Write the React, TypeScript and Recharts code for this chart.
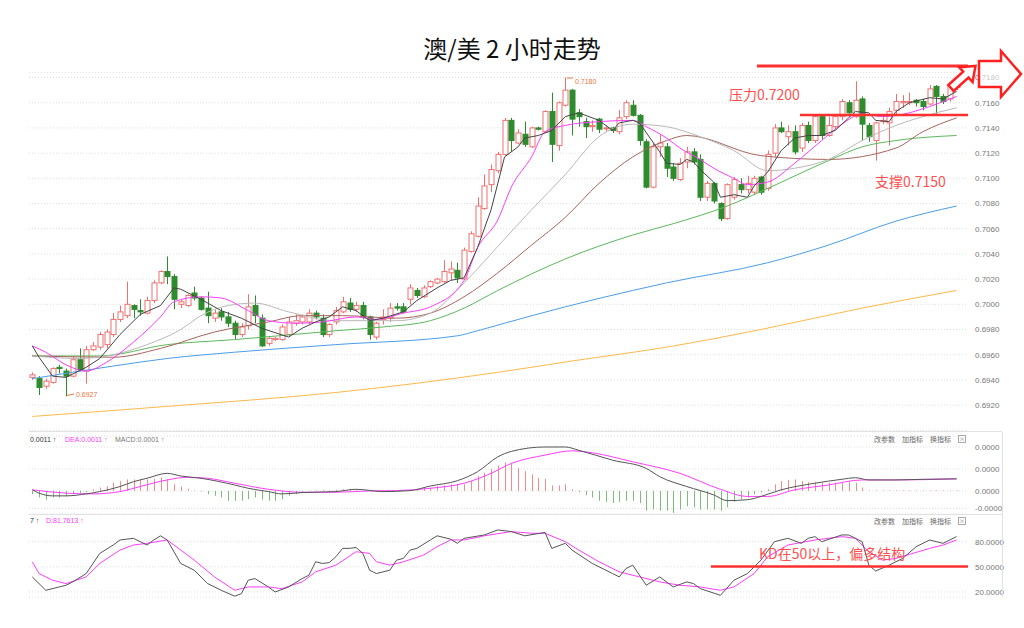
import React from "react";
import { ComposedChart, Bar, Line, XAxis, YAxis, CartesianGrid } from "recharts";

// 2-hour AUD/USD candles: [open, high, low, close]
const candles: number[][] = [
  [0.6942, 0.6946, 0.694, 0.6944], [0.6941, 0.6943, 0.6928, 0.6934], [0.6935, 0.6941, 0.6933, 0.6939],
  [0.6938, 0.695, 0.6937, 0.6949], [0.695, 0.6952, 0.6945, 0.6949], [0.6947, 0.6949, 0.6927, 0.6943],
  [0.6943, 0.6959, 0.6942, 0.6956], [0.6956, 0.6965, 0.6947, 0.6948], [0.6947, 0.6967, 0.6937, 0.6964],
  [0.6964, 0.697, 0.6963, 0.6967], [0.6966, 0.6978, 0.6964, 0.6976], [0.6968, 0.698, 0.6965, 0.6978],
  [0.6976, 0.6993, 0.6974, 0.6988], [0.6988, 0.6999, 0.6986, 0.6994], [0.6991, 0.7018, 0.6989, 0.7],
  [0.6999, 0.7, 0.6989, 0.6996], [0.6995, 0.7004, 0.6991, 0.6994], [0.6993, 0.7006, 0.6992, 0.7003],
  [0.7003, 0.7019, 0.7001, 0.7017], [0.7017, 0.7027, 0.7016, 0.7026], [0.7026, 0.7038, 0.7016, 0.7022],
  [0.7022, 0.7024, 0.6996, 0.7004], [0.7, 0.7004, 0.6997, 0.7002], [0.6999, 0.7008, 0.6998, 0.7007],
  [0.7009, 0.7014, 0.7003, 0.7005], [0.7005, 0.7006, 0.6995, 0.6996], [0.6997, 0.701, 0.6985, 0.6991],
  [0.6989, 0.6996, 0.6986, 0.6993], [0.6994, 0.6997, 0.6987, 0.699], [0.699, 0.6994, 0.6982, 0.6985],
  [0.6985, 0.6987, 0.6972, 0.6976], [0.6976, 0.6985, 0.6974, 0.6982], [0.6983, 0.7008, 0.698, 0.6998],
  [0.6999, 0.7007, 0.6985, 0.6991], [0.6989, 0.6992, 0.6966, 0.6967], [0.6969, 0.6974, 0.6967, 0.6973],
  [0.6972, 0.6974, 0.6971, 0.6973], [0.6972, 0.6984, 0.6971, 0.6982], [0.6976, 0.699, 0.6974, 0.6986],
  [0.6985, 0.6992, 0.6983, 0.6987], [0.6986, 0.6992, 0.6984, 0.699], [0.6986, 0.6996, 0.6984, 0.6993],
  [0.6993, 0.6995, 0.6988, 0.699], [0.6989, 0.6992, 0.6974, 0.6976], [0.6976, 0.6985, 0.6974, 0.6984],
  [0.6986, 0.6998, 0.6984, 0.6995], [0.6994, 0.7006, 0.6993, 0.7002], [0.7001, 0.7005, 0.6994, 0.6996],
  [0.6996, 0.7002, 0.6994, 0.6999], [0.6999, 0.7002, 0.6988, 0.699], [0.699, 0.6991, 0.6972, 0.6976],
  [0.6974, 0.6986, 0.6972, 0.6985], [0.6988, 0.6996, 0.6984, 0.699], [0.6989, 0.7001, 0.6986, 0.6997],
  [0.6998, 0.7001, 0.6995, 0.6997], [0.6998, 0.7001, 0.6993, 0.6994], [0.7004, 0.7016, 0.7, 0.7013],
  [0.7011, 0.7013, 0.7005, 0.7007], [0.7006, 0.7015, 0.7005, 0.7013], [0.7014, 0.7019, 0.7013, 0.7018],
  [0.7017, 0.7021, 0.7016, 0.702], [0.7018, 0.7035, 0.7017, 0.7026], [0.7025, 0.7034, 0.7019, 0.7028],
  [0.7027, 0.7033, 0.7017, 0.7021], [0.702, 0.7045, 0.7019, 0.7043], [0.7042, 0.7058, 0.7041, 0.7056],
  [0.7054, 0.7085, 0.7053, 0.7078], [0.7076, 0.7103, 0.7075, 0.7094], [0.7095, 0.7111, 0.7089, 0.7107],
  [0.7106, 0.7121, 0.7104, 0.7119], [0.7119, 0.7148, 0.7118, 0.7146], [0.7146, 0.7148, 0.7121, 0.713],
  [0.7128, 0.7139, 0.7127, 0.7136], [0.7135, 0.7145, 0.7125, 0.7127], [0.7125, 0.7141, 0.7124, 0.714],
  [0.714, 0.7141, 0.7138, 0.7139], [0.7137, 0.7154, 0.7136, 0.7153], [0.7153, 0.7168, 0.7113, 0.7127],
  [0.7126, 0.7161, 0.7122, 0.716], [0.7158, 0.718, 0.7157, 0.717], [0.717, 0.7171, 0.7134, 0.7147],
  [0.7152, 0.7155, 0.7141, 0.7149], [0.7145, 0.7148, 0.7132, 0.7141], [0.7141, 0.7146, 0.7137, 0.7142],
  [0.7147, 0.7148, 0.7136, 0.7139], [0.714, 0.7142, 0.7137, 0.714], [0.714, 0.7141, 0.7136, 0.7138],
  [0.7137, 0.7154, 0.7135, 0.7148], [0.7149, 0.7162, 0.7147, 0.716], [0.7158, 0.7162, 0.7149, 0.715],
  [0.715, 0.7151, 0.7126, 0.713], [0.7129, 0.7131, 0.7092, 0.7093], [0.7093, 0.7128, 0.7092, 0.7125],
  [0.7125, 0.7135, 0.7117, 0.7128], [0.7125, 0.7128, 0.7101, 0.7108], [0.7109, 0.7112, 0.7098, 0.71],
  [0.7099, 0.7116, 0.7098, 0.7112], [0.7113, 0.7125, 0.7108, 0.7121], [0.7121, 0.7124, 0.7111, 0.7113],
  [0.7115, 0.7119, 0.7082, 0.7085], [0.7085, 0.7098, 0.7082, 0.7096], [0.7096, 0.7097, 0.708, 0.7082],
  [0.708, 0.7081, 0.7066, 0.7068], [0.7068, 0.7096, 0.7067, 0.7095], [0.7085, 0.7101, 0.7083, 0.7099],
  [0.7095, 0.71, 0.7088, 0.7091], [0.7091, 0.7102, 0.7088, 0.7096], [0.7089, 0.7102, 0.7087, 0.71],
  [0.7101, 0.7102, 0.7087, 0.7089], [0.7092, 0.7122, 0.709, 0.7119], [0.712, 0.7143, 0.7117, 0.714],
  [0.714, 0.7145, 0.7136, 0.7137], [0.7133, 0.7142, 0.7126, 0.7137], [0.7137, 0.7142, 0.7119, 0.7121],
  [0.7124, 0.7144, 0.7121, 0.7142], [0.7142, 0.7145, 0.7128, 0.713], [0.713, 0.715, 0.7128, 0.7149],
  [0.7149, 0.715, 0.7131, 0.7134], [0.7134, 0.7149, 0.7133, 0.7142], [0.7141, 0.715, 0.7139, 0.7149],
  [0.7149, 0.7163, 0.7146, 0.7161], [0.716, 0.7162, 0.7149, 0.7152], [0.7149, 0.7177, 0.7148, 0.7162],
  [0.7163, 0.7165, 0.713, 0.7143], [0.7142, 0.7144, 0.7129, 0.7133], [0.713, 0.7145, 0.7114, 0.7144],
  [0.7145, 0.715, 0.7143, 0.7146], [0.7144, 0.7156, 0.7126, 0.7153], [0.7154, 0.7167, 0.7151, 0.7161],
  [0.716, 0.7166, 0.7156, 0.7161], [0.716, 0.7168, 0.7158, 0.7161], [0.7162, 0.7163, 0.7157, 0.716],
  [0.7161, 0.7163, 0.7154, 0.7157], [0.7159, 0.7174, 0.7158, 0.7171], [0.7173, 0.7174, 0.715, 0.7165],
  [0.7165, 0.7167, 0.7159, 0.7161], [0.7163, 0.7175, 0.7161, 0.7173], [0.7172, 0.7179, 0.717, 0.7176],
];

// moving averages: [candle index, value]
const ma5 = [[0, 0.6967], [1, 0.6958], [3, 0.6943], [5, 0.6942], [8, 0.695], [10, 0.6957], [13, 0.6976], [16, 0.6992], [19, 0.6999], [21, 0.7013], [22, 0.7012], [25, 0.7004], [28, 0.6995], [31, 0.6989], [34, 0.6981], [38, 0.6974], [40, 0.6981], [42, 0.6986], [44, 0.699], [46, 0.6998], [48, 0.6995], [50, 0.6987], [52, 0.6989], [55, 0.6994], [57, 0.7003], [60, 0.7013], [62, 0.7019], [64, 0.7021], [66, 0.7045], [68, 0.7075], [69, 0.7096], [70, 0.7117], [72, 0.7125], [73, 0.7132], [75, 0.7134], [76, 0.7136], [77, 0.7138], [79, 0.7149], [81, 0.7152], [84, 0.7146], [86, 0.7138], [87, 0.7144], [89, 0.7146], [90, 0.7144], [93, 0.7121], [94, 0.7112], [96, 0.7111], [97, 0.7115], [98, 0.7113], [99, 0.7107], [101, 0.7097], [102, 0.7085], [104, 0.7087], [106, 0.7085], [107, 0.7094], [109, 0.7105], [111, 0.7122], [113, 0.7132], [115, 0.7134], [117, 0.7134], [119, 0.7138], [121, 0.7148], [122, 0.7153], [124, 0.7152], [125, 0.7146], [127, 0.7145], [128, 0.7153], [130, 0.716], [133, 0.7164], [135, 0.7163], [137, 0.7169]];
const ma10 = [[0, 0.6967], [2, 0.6962], [5, 0.6952], [8, 0.6947], [11, 0.6954], [15, 0.697], [19, 0.699], [21, 0.7002], [25, 0.7006], [28, 0.7005], [32, 0.6995], [35, 0.6987], [39, 0.6985], [43, 0.6986], [48, 0.699], [51, 0.6988], [55, 0.6993], [59, 0.6998], [64, 0.7019], [66, 0.7045], [69, 0.7067], [71, 0.7093], [74, 0.7117], [76, 0.7137], [79, 0.7142], [84, 0.7145], [89, 0.7146], [91, 0.7141], [94, 0.7132], [96, 0.7124], [99, 0.7115], [101, 0.7108], [104, 0.71], [106, 0.7095], [109, 0.7097], [113, 0.7112], [117, 0.713], [120, 0.7143], [123, 0.7151], [126, 0.7149], [130, 0.7152], [133, 0.7157], [137, 0.7165]];
const ma20 = [[0, 0.6959], [7, 0.6957], [12, 0.696], [17, 0.6968], [22, 0.698], [25, 0.6991], [29, 0.6999], [33, 0.7001], [38, 0.6994], [45, 0.6987], [54, 0.6987], [59, 0.6993], [64, 0.7017], [69, 0.7046], [74, 0.7075], [79, 0.7103], [84, 0.7133], [89, 0.7143], [94, 0.7141], [99, 0.7133], [104, 0.7122], [109, 0.7106], [113, 0.7108], [118, 0.7115], [123, 0.713], [128, 0.7142], [132, 0.7149], [137, 0.7156]];
const ma30 = [[0, 0.6959], [12, 0.6958], [19, 0.6965], [27, 0.6978], [35, 0.6986], [40, 0.6991], [46, 0.6991], [54, 0.6989], [59, 0.6993], [64, 0.7006], [69, 0.7025], [74, 0.7047], [79, 0.7069], [84, 0.7096], [89, 0.7117], [94, 0.713], [97, 0.7134], [108, 0.7118], [118, 0.7115], [128, 0.7124], [132, 0.7137], [137, 0.7148]];
const ma60 = [[0, 0.6959], [10, 0.6959], [20, 0.6968], [30, 0.6972], [45, 0.6979], [52, 0.6982], [59, 0.6987], [64, 0.6997], [69, 0.7011], [79, 0.7036], [89, 0.7055], [95, 0.7064], [103, 0.7078], [109, 0.7092], [118, 0.7114], [123, 0.7125], [128, 0.713], [137, 0.7134]];
const ma120 = [[0, 0.6941], [12, 0.6951], [20, 0.6957], [30, 0.6962], [45, 0.6968], [63, 0.6975], [66, 0.6979], [70, 0.6985], [79, 0.6998], [89, 0.7011], [94, 0.7017], [109, 0.7033], [118, 0.7047], [128, 0.7066], [137, 0.7078]];
const ma250 = [[0, 0.6911], [20, 0.6919], [45, 0.693], [69, 0.6946], [80, 0.6955], [94, 0.6966], [108, 0.698], [123, 0.6997], [137, 0.7011]];

// MACD
const dif = [[0, 0.0001], [1, -0.0002], [3, -0.00045], [5, -0.00045], [8, -0.00027], [10, -0.00006], [13, 0.0004], [15, 0.00084], [17, 0.00115], [20, 0.0016], [22, 0.00136], [25, 0.00115], [30, 0.00054], [32, 0.00024], [35, -0.00006], [37, -0.00027], [40, -0.00015], [45, -0.00006], [48, 0.00015], [52, -0.00006], [56, 0.00003], [59, 0.00045], [63, 0.00093], [66, 0.00175], [69, 0.0031], [71, 0.0036], [76, 0.004], [79, 0.004], [81, 0.0037], [86, 0.0028], [91, 0.00205], [93, 0.0013], [97, 0.0004], [101, -0.00036], [103, -0.00088], [106, -0.0008], [108, -0.0005], [111, 0.0001], [116, 0.0007], [120, 0.00106], [122, 0.0012], [124, 0.001], [128, 0.001], [132, 0.00106], [137, 0.0011]];
const dea = [[0, 0.0001], [5, -0.0002], [9, -0.00027], [13, -0.00006], [16, 0.0004], [20, 0.001], [23, 0.00124], [26, 0.00115], [30, 0.0007], [35, 0.00015], [40, -0.00012], [45, -0.00012], [50, 0], [54, 0.00003], [59, 0.00024], [64, 0.0007], [68, 0.0016], [71, 0.0025], [76, 0.00326], [80, 0.00365], [83, 0.00347], [89, 0.00265], [96, 0.0016], [102, 0.00015], [106, -0.0005], [109, -0.0005], [113, 0.0001], [118, 0.00054], [123, 0.001], [128, 0.001], [137, 0.0011]];
const macdHist = [
  -0.0003, -0.0006, -0.0008, -0.0006, -0.0006, -0.0005, -0.0003, -0.0002, -0.0001,
  0.00015, 0.0003, 0.00045, 0.00075, 0.0009, 0.00105, 0.00105, 0.00105, 0.00105, 0.0011, 0.0012, 0.00105, 0.0006, 0.0004, 0.0002, 0.00005,
  -0.00005, -0.0003, -0.00045, -0.0006, -0.0009, -0.0009, -0.0009, -0.00075, -0.0006, -0.0008, -0.0009, -0.0009, -0.00075, -0.00045, -0.0003, -0.0001,
  -0.00005, 0.00005, 0.0001, 0.00005, 0.0001, 0.00015, 0.00015, 0.0001, 0, -0.00005, -0.0001, -0.00005, 0, 0.00005, 0.00005, 0.0001, 0.00015,
  0.0003, 0.0003, 0.00045, 0.0005, 0.0006, 0.0006, 0.0006, 0.0009, 0.00135, 0.00165, 0.002, 0.0023, 0.0026, 0.0025,
  0.0021, 0.0018, 0.0015, 0.0012, 0.0011, 0.0005, 0.0005, 0.0006, 0.00015,
  -0.0001, -0.0004, -0.0006, -0.0009, -0.001, -0.0011, -0.001, -0.0009, -0.0009, -0.0011, -0.0018, -0.0017, -0.0018, -0.0018, -0.002, -0.0017, -0.0014, -0.0015, -0.0017, -0.0017, -0.0017, -0.0018, -0.0015, -0.001, -0.00075, -0.0006, -0.0003, -0.00015,
  0.00015, 0.0006, 0.0009, 0.001, 0.00105, 0.0009, 0.0008, 0.0008, 0.00075, 0.00075, 0.00075, 0.00075, 0.0008, 0.00075, 0.0003, 0.00005,
  0.00005, 0.00005, 0.00005, 0.00005, 0.00005, 0.00005, 0.00005, 0.00005, 0.00005, 0.00005, 0.00005, 0.00005, 0.00005,
];

// KD
const kLine = [[0, 38], [1, 30], [2, 22], [4, 26], [5, 28], [6, 32], [8, 42], [9, 54], [10, 66], [12, 76], [13, 82], [15, 84], [17, 76], [18, 82], [19, 87], [20, 82], [22, 54], [24, 46], [26, 30], [28, 22], [30, 15], [31, 18], [32, 34], [33, 36], [35, 26], [36, 20], [38, 26], [40, 36], [41, 40], [42, 56], [43, 54], [44, 55], [45, 62], [46, 72], [47, 72], [48, 73], [49, 66], [50, 46], [51, 42], [53, 46], [54, 58], [55, 60], [56, 70], [57, 72], [59, 82], [60, 87], [62, 83], [63, 78], [64, 84], [67, 88], [69, 94], [71, 92], [73, 87], [76, 91], [77, 72], [79, 78], [80, 70], [83, 54], [86, 42], [87, 38], [88, 48], [89, 52], [91, 28], [93, 38], [95, 26], [97, 32], [98, 30], [99, 24], [102, 16], [104, 34], [106, 42], [108, 58], [110, 80], [112, 84], [114, 78], [115, 84], [116, 86], [117, 80], [120, 88], [121, 88], [123, 80], [124, 52], [125, 45], [127, 52], [129, 60], [131, 74], [133, 82], [135, 78], [137, 86]];
const dLine = [[0, 56], [1, 42], [3, 34], [5, 30], [8, 38], [10, 54], [13, 70], [15, 76], [17, 78], [20, 82], [21, 76], [24, 58], [27, 38], [30, 22], [32, 26], [35, 26], [37, 24], [40, 32], [42, 44], [45, 52], [48, 68], [50, 66], [51, 56], [53, 52], [55, 56], [58, 64], [60, 74], [62, 82], [64, 82], [67, 87], [71, 92], [74, 90], [76, 90], [79, 80], [81, 70], [84, 56], [87, 44], [90, 38], [93, 32], [96, 28], [99, 26], [102, 22], [104, 26], [107, 42], [109, 62], [112, 76], [116, 82], [120, 86], [122, 84], [124, 68], [126, 58], [128, 60], [133, 72], [135, 76], [137, 82]];

const priceTicks = [0.692, 0.694, 0.696, 0.698, 0.7, 0.702, 0.704, 0.706, 0.708, 0.71, 0.712, 0.714, 0.716, 0.718];
const macdTicks = [-0.0016, 0, 0.002, 0.004];
const macdTickLabels = ["-0.0000", "0.0000", "0.0000", "0.0000"];
const kdTicks = [20, 50, 80];

const rows: any[] = candles.map(([o, h, l, c], i) => ({ i, o, h, l, c, range: [l, h], hist: macdHist[i] }));
const put = (key: string, pts: number[][]) => pts.forEach(([i, v]) => { rows[i][key] = v; });
put("ma5", ma5); put("ma10", ma10); put("ma20", ma20); put("ma30", ma30);
put("ma60", ma60); put("ma120", ma120); put("ma250", ma250);
put("dif", dif); put("dea", dea); put("k", kLine); put("d", dLine);

const RED = "#f07070";
const GREEN = "#2e8b2e";
const X_DOMAIN = [-0.5, 138.69];
const tickStyle = { fontSize: 8, fill: "#777", fontFamily: "Liberation Sans" };

const Candle = (props: any) => {
  const { x, y, width, height, payload } = props;
  const { o, h, l, c } = payload;
  const up = c >= o;
  const color = up ? RED : GREEN;
  const px = (p: number) => y + ((h - p) / (h - l)) * height;
  const cx = Math.round(x + width / 2) + 0.5;
  const top = px(Math.max(o, c));
  const bot = px(Math.min(o, c));
  return (
    <g>
      <line x1={cx} x2={cx} y1={y} y2={y + height} stroke={color} />
      <rect x={cx - 2.5} y={top} width={5} height={Math.max(bot - top, 1)}
        fill={up ? "#fff" : color} stroke={color} strokeWidth={1} />
    </g>
  );
};

const HistBar = (props: any) => {
  const { x, y, width, height, payload } = props;
  const cx = Math.round(x + width / 2) + 0.5;
  return <line x1={cx} x2={cx} y1={y} y2={y + height} stroke={payload.hist >= 0 ? "#f28c8c" : "#7cbf7c"} />;
};

const line = (key: string, color: string, type: any = "monotone") => (
  <Line dataKey={key} stroke={color} strokeWidth={1} dot={false} connectNulls type={type} isAnimationActive={false} />
);

const Controls = ({ y }: { y: number }) => (
  <g fontSize={7} fill="#666" fontFamily="Noto Sans CJK SC">
    <text x={874} y={y}>改参数</text>
    <text x={902} y={y}>加指标</text>
    <text x={930} y={y}>换指标</text>
    <rect x={958.5} y={y - 6.5} width={7} height={7} fill="none" stroke="#aaa" />
    <text x={962} y={y - 1} textAnchor="middle" fontSize={6} fill="#888">×</text>
  </g>
);

export default function App() {
  return (
    <div style={{ position: "absolute", left: 0, top: 0, width: 1024, height: 628, background: "#fff", overflow: "hidden" }}>
      <div style={{ position: "absolute", left: 0, top: 0 }}>
        <ComposedChart width={1024} height={432} data={rows} margin={{ top: 72.5, right: 6, bottom: 1.7, left: 28.9 }}>
          <CartesianGrid vertical={false} stroke="#dcdcdc" strokeDasharray="1 2" />
          <XAxis dataKey="i" type="number" domain={X_DOMAIN} hide allowDataOverflow />
          <YAxis orientation="right" width={50} domain={[0.69, 0.7184]} ticks={priceTicks} interval={0}
            allowDataOverflow axisLine={false} tickLine={false} tickSize={0} tickMargin={7}
            tick={tickStyle} tickFormatter={(v: number) => v.toFixed(4)} />
          {line("ma250", "#ffb84a")}
          {line("ma120", "#4a9ee8")}
          {line("ma60", "#5cb85c")}
          {line("ma30", "#a8645c")}
          {line("ma20", "#b8b8b8")}
          <Bar dataKey="range" barSize={5} shape={<Candle />} isAnimationActive={false} />
          {line("ma10", "#ff3cff")}
          {line("ma5", "#444", "linear")}
        </ComposedChart>
      </div>
      <div style={{ position: "absolute", left: 0, top: 432 }}>
        <ComposedChart width={1024} height={82} data={rows} margin={{ top: 4, right: 6, bottom: 0, left: 28.9 }}>
          <CartesianGrid vertical={false} stroke="#dcdcdc" strokeDasharray="1 2" />
          <XAxis dataKey="i" type="number" domain={X_DOMAIN} hide allowDataOverflow />
          <YAxis orientation="right" width={50} domain={[-0.0021, 0.005]} ticks={macdTicks} interval={0}
            allowDataOverflow axisLine={false} tickLine={false} tickSize={0} tickMargin={7}
            tick={tickStyle} tickFormatter={(v: number) => macdTickLabels[macdTicks.indexOf(v)]} />
          <Bar dataKey="hist" barSize={3} shape={<HistBar />} isAnimationActive={false} />
          {line("dea", "#ff3cff")}
          {line("dif", "#555")}
        </ComposedChart>
      </div>
      <div style={{ position: "absolute", left: 0, top: 514 }}>
        <ComposedChart width={1024} height={84} data={rows} margin={{ top: 0, right: 6, bottom: 1, left: 28.9 }}>
          <CartesianGrid vertical={false} stroke="#dcdcdc" strokeDasharray="1 2" />
          <XAxis dataKey="i" type="number" domain={X_DOMAIN} hide allowDataOverflow />
          <YAxis orientation="right" width={50} domain={[14, 113]} ticks={kdTicks} interval={0}
            allowDataOverflow axisLine={false} tickLine={false} tickSize={0} tickMargin={7}
            tick={tickStyle} tickFormatter={(v: number) => v.toFixed(4)} />
          {line("d", "#ff3cff", "linear")}
          {line("k", "#555", "linear")}
        </ComposedChart>
      </div>

      <svg width={1024} height={628} style={{ position: "absolute", left: 0, top: 0, pointerEvents: "none" }}>
        <text x={512} y={58} textAnchor="middle" fontSize={24} fontFamily="Noto Sans CJK SC" fill="#111">澳/美 2 小时走势</text>

        <line x1={29} x2={1002} y1={431.5} y2={431.5} stroke="#e2e2e2" />
        <line x1={29} x2={1002} y1={514.5} y2={514.5} stroke="#e2e2e2" />
        <line x1={1002.5} x2={1002.5} y1={432} y2={597} stroke="#e2e2e2" />

        <g fontSize={7} fontFamily="Liberation Sans">
          <text x={30} y={442} fill="#333">0.0011 ↑</text>
          <text x={65} y={442} fill="#ff3cff">DEA:0.0011 ↑</text>
          <text x={115} y={442} fill="#777">MACD:0.0001 ↑</text>
          <text x={30} y={523} fill="#333">7 ↑</text>
          <text x={46} y={523} fill="#ff3cff">D:81.7613 ↑</text>
        </g>
        <Controls y={442} />
        <Controls y={524} />

        <g fontSize={7} fontFamily="Liberation Sans" fill="#e8763c">
          <line x1={67} x2={74} y1={395.5} y2={394} stroke="#e8763c" />
          <text x={76} y={397}>0.6927</text>
          <line x1={567} x2={573} y1={78} y2={78} stroke="#e8763c" />
          <text x={575} y={84}>0.7180</text>
        </g>

        <line x1={757} x2={968} y1={66} y2={66} stroke="#ff3030" strokeWidth={3} />
        <polygon points="0,-4 20,-4 20,-10 33,0 20,10 20,4 0,4" transform="translate(951,88) rotate(-42)"
          fill="#fff" stroke="#ff2020" strokeWidth={2.5} />
        <polygon points="979,61 1001,61 1001,51 1021,74 1001,97 1001,87 979,87"
          fill="rgba(255,255,255,0.6)" stroke="#ff2020" strokeWidth={2.5} />

        <g fontSize={14} fontFamily="Noto Sans CJK SC" fill="#ff5050">
          <text x={729} y={100}>压力0.7200</text>
          <text x={875} y={187}>支撑0.7150</text>
          <text x={759} y={559}>KD在50以上，偏多结构</text>
        </g>
        <line x1={800} x2={968} y1={115} y2={115} stroke="#ff3030" strokeWidth={2.5} />
        <line x1={711} x2={968} y1={566.5} y2={566.5} stroke="#ff3030" strokeWidth={2.5} />
      </svg>
    </div>
  );
}
